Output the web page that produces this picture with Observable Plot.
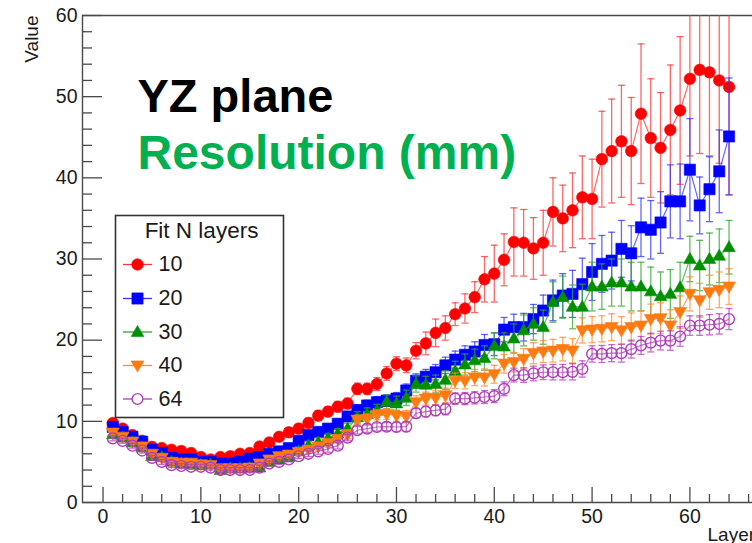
<!DOCTYPE html>
<html>
<head>
<meta charset="utf-8">
<script src="https://cdn.jsdelivr.net/npm/d3@7"></script>
<script src="https://cdn.jsdelivr.net/npm/@observablehq/plot@0.6"></script>
<style>
  html, body { margin: 0; padding: 0; background: #ffffff; overflow: hidden; }
  #chart svg { display: block; }
</style>
</head>
<body>
<div id="chart"></div>
<script>
// ---------------- data ----------------
const layers = [1,2,3,4,5,6,7,8,9,10,11,12,13,14,15,16,17,18,19,20,21,22,23,24,25,26,27,28,29,30,31,32,
  33,34,35,36,37,38,39,40,41,42,43,44,45,46,47,48,49,50,51,52,53,54,55,56,57,58,59,60,61,62,63,64];

const seriesNames = ["10", "20", "30", "40", "64"];

const fit10 = [9.8,9.1,8.3,7.6,6.85,6.7,6.5,6.35,6.1,5.6,
  5.3,5.6,5.7,6.0,6.1,6.9,7.4,8.1,8.65,9.1,
  9.8,10.7,11.2,11.8,12.2,14.0,14.0,14.6,15.9,17.1,
  16.9,18.7,19.6,20.9,21.5,23.2,23.9,25.3,27.5,28.2,
  29.9,32.1,32.0,31.3,32.0,35.8,35.0,36.0,37.6,37.4,
  42.3,43.3,44.5,43.3,47.9,44.9,43.7,45.9,48.3,52.2,
  53.3,53.0,52.0,51.2];
const err10 = [0.35,0.35,0.35,0.35,0.35,0.35,0.35,0.35,0.35,0.4,
  0.4,0.4,0.4,0.45,0.45,0.5,0.5,0.5,0.55,0.55,
  0.6,0.6,0.6,0.65,0.65,0.7,0.7,0.8,0.85,0.85,
  0.9,1.0,1.4,1.7,1.5,1.4,1.8,1.9,2.8,3.5,
  3.2,4.2,4.1,3.8,4.0,4.2,4.1,4.6,5.1,4.9,
  5.9,6.4,6.9,6.6,8.6,7.3,6.8,8.0,9.1,9.5,
  10.3,10.3,10.2,13.3];

const fit20 = [9.3,8.7,8.1,7.5,6.5,6.1,5.5,5.3,5.3,5.0,
  5.0,4.8,4.8,5.0,5.4,5.6,6.0,6.3,6.7,7.6,
  8.3,8.7,9.1,9.7,10.6,11.4,11.95,12.35,12.55,12.8,
  13.8,15.0,15.5,16.05,16.9,17.6,18.2,18.6,19.4,19.5,
  21.3,21.6,21.6,22.6,23.65,24.9,25.5,25.7,26.9,28.4,
  29.4,29.8,31.25,30.7,33.9,33.6,34.5,37.1,37.1,41.0,
  36.6,38.6,40.8,45.1];
const err20 = [0.3,0.3,0.3,0.3,0.3,0.3,0.3,0.3,0.3,0.3,
  0.3,0.3,0.3,0.3,0.35,0.35,0.35,0.4,0.4,0.4,
  0.45,0.5,0.5,0.55,0.6,0.6,0.65,0.7,0.7,0.75,
  0.8,0.85,0.9,0.95,1.0,1.05,1.1,1.2,1.3,1.4,
  1.5,1.6,1.7,1.8,1.9,2.5,2.7,2.9,3.2,3.5,
  3.5,3.5,3.5,3.4,3.6,3.6,3.8,4.5,4.6,6.3,
  3.5,4.0,5.1,7.2];

const fit30 = [8.4,8.0,7.4,6.8,5.7,5.6,5.0,4.8,4.7,4.6,
  4.7,4.0,4.2,4.2,4.3,4.3,5.0,5.3,5.6,6.3,
  7.0,7.4,7.9,8.5,9.1,10.5,10.9,11.3,12.4,12.2,
  12.9,14.6,14.5,14.6,15.1,16.2,17.0,17.5,17.8,19.3,
  19.2,20.2,21.2,22.0,21.6,24.7,25.3,24.1,24.1,26.6,
  26.6,27.1,27.1,26.6,26.6,26.0,25.4,25.7,26.5,30.0,
  29.2,30.0,30.4,31.45];
const err30 = [0.3,0.3,0.3,0.3,0.3,0.3,0.3,0.3,0.3,0.3,
  0.3,0.3,0.35,0.35,0.35,0.4,0.4,0.4,0.45,0.45,
  0.5,0.55,0.6,0.6,0.65,0.7,0.75,0.8,0.85,0.9,
  0.95,1.0,1.05,1.1,1.15,1.2,1.3,1.4,1.5,1.6,
  1.7,1.8,1.9,2.0,2.1,2.5,2.6,2.7,2.8,3.0,
  2.8,2.9,2.9,3.0,3.0,3.0,3.0,3.0,3.1,2.8,
  3.1,3.2,3.3,3.3];

const fit40 = [8.6,8.1,7.5,6.9,6.0,5.5,5.0,4.9,4.9,4.7,
  4.6,4.2,4.2,4.2,4.3,4.8,5.3,5.7,5.9,6.2,
  6.5,6.9,7.3,7.8,8.4,10.2,10.3,10.8,10.9,10.7,
  10.6,12.35,12.8,12.9,13.2,15.0,15.0,15.4,15.4,15.8,
  17.1,17.3,17.7,18.4,18.6,18.7,18.9,18.7,21.2,21.3,
  21.4,21.6,21.2,21.6,21.8,22.6,22.7,21.8,23.45,25.7,
  24.9,25.9,26.2,26.6];
const err40 = [0.3,0.3,0.3,0.3,0.3,0.3,0.3,0.3,0.3,0.3,
  0.3,0.3,0.3,0.3,0.3,0.35,0.35,0.35,0.4,0.4,
  0.45,0.45,0.5,0.5,0.55,0.55,0.6,0.6,0.65,0.7,
  0.75,0.8,0.8,0.85,0.9,0.95,1.0,1.0,1.05,1.1,
  1.15,1.2,1.25,1.3,1.35,1.4,1.45,1.5,1.55,1.6,
  1.6,1.65,1.7,1.75,1.8,1.85,1.9,1.95,2.0,2.1,
  2.1,2.1,2.2,2.2];

const fit64 = [7.9,7.6,7.0,6.4,5.5,5.0,4.6,4.5,4.4,4.4,
  4.3,4.0,4.0,4.0,4.0,4.3,4.8,5.0,5.3,5.7,
  6.0,6.3,6.6,7.0,8.0,8.9,9.1,9.3,9.35,9.3,
  9.35,11.0,11.2,11.35,11.5,12.8,12.8,12.9,13.0,13.1,
  14.0,15.7,15.7,15.9,16.05,16.05,16.05,16.1,16.45,18.3,
  18.3,18.4,18.4,18.9,19.35,19.7,19.95,19.95,20.45,21.8,
  21.8,21.9,22.0,22.6];
const err64 = [0.3,0.3,0.3,0.3,0.3,0.3,0.3,0.3,0.3,0.3,
  0.3,0.3,0.3,0.3,0.3,0.3,0.3,0.3,0.3,0.3,
  0.35,0.35,0.4,0.4,0.4,0.45,0.45,0.5,0.5,0.55,
  0.6,0.6,0.65,0.65,0.7,0.7,0.75,0.75,0.8,0.8,
  0.85,0.85,0.9,0.9,0.9,0.95,0.95,1.0,1.0,1.0,
  1.05,1.05,1.1,1.1,1.1,1.15,1.15,1.2,1.2,1.2,
  1.2,1.25,1.25,1.3];

const xMajorTicks = [0, 10, 20, 30, 40, 50, 60];
const xMinorTicks = [2,4,6,8,12,14,16,18,22,24,26,28,32,34,36,38,42,44,46,48,52,54,56,58,62,64,66];
const yMajorTicks = [0, 10, 20, 30, 40, 50, 60];
const yMinorTicks = [2,4,6,8,12,14,16,18,22,24,26,28,32,34,36,38,42,44,46,48,52,54,56,58];

const xTitle = "Layer";
const yTitle = "Value";
const legendTitle = "Fit N layers";
const noteLine1 = "YZ plane";
const noteLine2 = "Resolution (mm)";

// ---------------- styles ----------------
const symSquare = {draw(c) { c.rect(-5.6, -5.6, 11.2, 11.2); }};
const symTriUp = {draw(c) { c.moveTo(0, -6.6); c.lineTo(6.3, 4.4); c.lineTo(-6.3, 4.4); c.closePath(); }};
const symTriDown = {draw(c) { c.moveTo(0, 6.6); c.lineTo(6.5, -4.6); c.lineTo(-6.5, -4.6); c.closePath(); }};
const symCap = {draw(c) { c.moveTo(-3.5, 0); c.lineTo(3.5, 0); }};
const symLegendLine = {draw(c) { c.moveTo(-14.5, 0); c.lineTo(14.5, 0); }};

const seriesValues = [fit10, fit20, fit30, fit40, fit64];
const seriesErrors = [err10, err20, err30, err40, err64];
const seriesStyle = [
  {marker: "#ff0000", bar: "#ff3333", symbol: "circle", r: 5.8, filled: true},
  {marker: "#0000ff", bar: "#3333ff", symbol: symSquare, r: 5, filled: true},
  {marker: "#008f00", bar: "#2fa52f", symbol: symTriUp, r: 5, filled: true},
  {marker: "#ff7a10", bar: "#ff8a30", symbol: symTriDown, r: 5, filled: true},
  {marker: "#b03cb8", bar: "#b03cb8", symbol: "circle", r: 5.4, filled: false}
];

const FONT = "'Liberation Sans', Arial, Helvetica, sans-serif";
const xDomain = [-2.1, 66.4];

// ---------------- marks ----------------
const marks = [];

// axes: frame lines
marks.push(Plot.ruleY([0], {stroke: "#4a4a4a", strokeWidth: 1.4}));
marks.push(Plot.ruleY([60], {stroke: "#4a4a4a", strokeWidth: 1.4}));
marks.push(Plot.ruleX([xDomain[0]], {stroke: "#4a4a4a", strokeWidth: 1.4}));

// inward ticks
marks.push(Plot.axisY(yMajorTicks, {anchor: "left", tickSize: 20, dx: 20, text: null, label: null, stroke: "#4a4a4a", strokeWidth: 1.3}));
marks.push(Plot.axisY(yMinorTicks, {anchor: "left", tickSize: 10, dx: 10, text: null, label: null, stroke: "#4a4a4a", strokeWidth: 1.3}));
marks.push(Plot.axisY(yMajorTicks, {anchor: "left", tickSize: 0, tickPadding: 5, label: null, fontSize: 19.5, fill: "#1a1a1a"}));
marks.push(Plot.axisX(xMajorTicks, {anchor: "bottom", tickSize: 15, dy: -15, text: null, label: null, stroke: "#4a4a4a", strokeWidth: 1.3}));
marks.push(Plot.axisX(xMinorTicks, {anchor: "bottom", tickSize: 8, dy: -8, text: null, label: null, stroke: "#4a4a4a", strokeWidth: 1.3}));
marks.push(Plot.axisX(xMajorTicks, {anchor: "bottom", tickSize: 0, tickPadding: 7, label: null, fontSize: 19.5, fill: "#1a1a1a"}));

// axis titles
marks.push(Plot.text([yTitle], {text: d => d, frameAnchor: "top-left", dx: -45, dy: 0, rotate: -90,
  textAnchor: "end", lineAnchor: "bottom", fontSize: 19, fill: "#1a1a1a"}));
marks.push(Plot.text([xTitle], {text: d => d, frameAnchor: "bottom-left", dx: 625, dy: 38,
  textAnchor: "start", lineAnchor: "bottom", fontSize: 19, fill: "#1a1a1a"}));

// data series
seriesNames.forEach((name, k) => {
  const st = seriesStyle[k];
  const rows = layers.map((L, i) => ({layer: L, value: seriesValues[k][i], err: seriesErrors[k][i]}));
  marks.push(Plot.ruleX(rows, {x: "layer", y1: d => d.value - d.err, y2: d => d.value + d.err,
    stroke: st.bar, strokeOpacity: 0.75, strokeWidth: 1.3, clip: true}));
  marks.push(Plot.dot(rows, {x: "layer", y: d => d.value + d.err, symbol: symCap,
    stroke: st.bar, strokeOpacity: 0.75, strokeWidth: 1.3, fill: "none", clip: true}));
  marks.push(Plot.dot(rows, {x: "layer", y: d => d.value - d.err, symbol: symCap,
    stroke: st.bar, strokeOpacity: 0.75, strokeWidth: 1.3, fill: "none", clip: true}));
  marks.push(Plot.line(rows, {x: "layer", y: "value", stroke: st.bar, strokeOpacity: 0.75, strokeWidth: 1.2}));
  marks.push(Plot.dot(rows, {x: "layer", y: "value", symbol: st.symbol, r: st.r,
    fill: st.filled ? st.marker : "white", fillOpacity: st.filled ? 1 : 0,
    stroke: st.marker, strokeWidth: st.filled ? 0.6 : 1.4}));
});

// legend box
marks.push(Plot.frame({insetLeft: 33, insetTop: 200, insetRight: 469, insetBottom: 85,
  fill: "white", stroke: "#333333", strokeWidth: 1.6}));
marks.push(Plot.text([legendTitle], {text: d => d, frameAnchor: "top-left", dx: 119, dy: 215,
  textAnchor: "middle", lineAnchor: "middle", fontSize: 22.5, fill: "#1a1a1a"}));
const legendY = [249, 283, 316.5, 350, 383.5];
seriesNames.forEach((name, k) => {
  const st = seriesStyle[k];
  marks.push(Plot.dot([name], {frameAnchor: "top-left", dx: 55, dy: legendY[k], symbol: symLegendLine,
    stroke: st.bar, strokeWidth: 1.3, fill: "none"}));
  marks.push(Plot.dot([name], {frameAnchor: "top-left", dx: 55, dy: legendY[k], symbol: st.symbol, r: st.r,
    fill: st.filled ? st.marker : "white", stroke: st.marker, strokeWidth: st.filled ? 0.6 : 1.4}));
  marks.push(Plot.text([name], {text: d => d, frameAnchor: "top-left", dx: 76, dy: legendY[k],
    textAnchor: "start", lineAnchor: "middle", fontSize: 21.5, fill: "#1a1a1a"}));
});

// slide annotations
marks.push(Plot.text([noteLine1], {text: d => d, frameAnchor: "top-left", dx: 55, dy: 96,
  textAnchor: "start", lineAnchor: "bottom", fontSize: 47, fontWeight: "bold", fill: "#000000"}));
marks.push(Plot.text([noteLine2], {text: d => d, frameAnchor: "top-left", dx: 55, dy: 153,
  textAnchor: "start", lineAnchor: "bottom", fontSize: 48, fontWeight: "bold", fill: "#00b050"}));

const chart = Plot.plot({
  width: 752,
  height: 543,
  marginLeft: 82,
  marginRight: 0,
  marginTop: 15,
  marginBottom: 41,
  x: {domain: xDomain},
  y: {domain: [0, 60]},
  style: {fontFamily: FONT, background: "white", color: "#1a1a1a"},
  marks
});
document.getElementById("chart").appendChild(chart);
</script>
</body>
</html>
